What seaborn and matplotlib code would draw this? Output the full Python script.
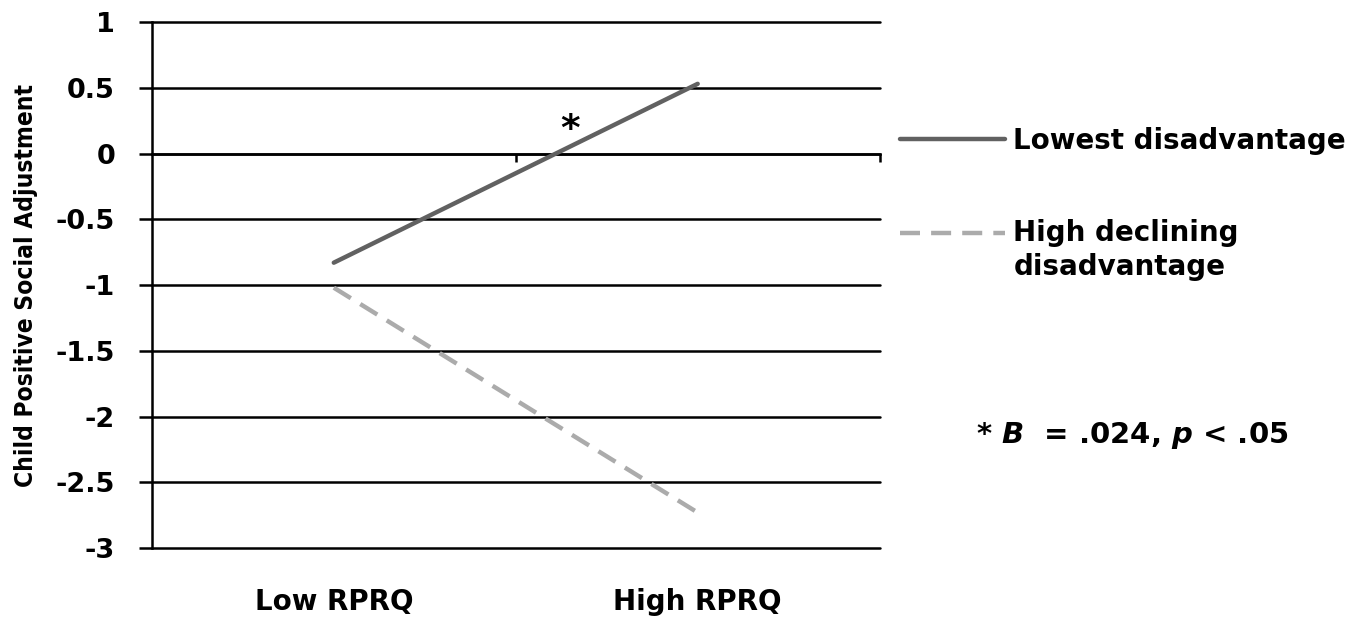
import matplotlib
matplotlib.use("Agg")
import matplotlib.pyplot as plt
import seaborn as sns
import pandas as pd

# ---- data ----
rprq = ["Low RPRQ", "High RPRQ"]
lowest_disadvantage = [-0.83, 0.53]
high_declining = [-1.02, -2.73]
series_names = ["Lowest disadvantage", "High declining\ndisadvantage"]
y_ticks = [1, 0.5, 0, -0.5, -1, -1.5, -2, -2.5, -3]
y_label = "Child Positive Social Adjustment"
note_text = r"* $B$  = .024, $p$ < .05"
star_pos = (0.65, 0.18)

df = pd.DataFrame({
    "RPRQ": rprq * 2,
    "value": lowest_disadvantage + high_declining,
    "group": [series_names[0]] * 2 + [series_names[1]] * 2,
})

FONT = "DejaVu Sans"
sns.set_theme(style="white")
plt.rcParams["font.family"] = [FONT]
plt.rcParams["text.color"] = "black"
plt.rcParams["axes.labelcolor"] = "black"
plt.rcParams["xtick.color"] = "black"
plt.rcParams["ytick.color"] = "black"
plt.rcParams["mathtext.fontset"] = "custom"
plt.rcParams["mathtext.it"] = f"{FONT}:bold:italic"
plt.rcParams["mathtext.rm"] = f"{FONT}:bold"

fig = plt.figure(figsize=(13.68, 6.2), dpi=100)
ax = fig.add_axes([0.111, 0.116, 0.532, 0.8485])

palette = {series_names[0]: "#616161", series_names[1]: "#ababab"}
dashes = {series_names[0]: "", series_names[1]: (4.5, 2.5)}
sns.lineplot(data=df, x="RPRQ", y="value", hue="group", style="group",
             palette=palette, dashes=dashes, linewidth=3.2, ax=ax, zorder=5,
             legend=True)

ax.set_xlim(-0.5, 1.5)
ax.set_ylim(-3, 1)
ax.set_yticks(y_ticks)
ax.set_yticklabels([f"{t:g}" for t in y_ticks], fontsize=19.5, fontweight="bold",
                   color="black")
for t in y_ticks:
    ax.axhline(t, color="black", lw=1.8, zorder=1, clip_on=False)
ax.tick_params(axis="y", direction="out", length=9.5, width=1.8, color="black", pad=17, left=True)

# spines
for s in ["top", "right"]:
    ax.spines[s].set_visible(False)
ax.spines["left"].set_color("black")
ax.spines["left"].set_linewidth(1.8)
ax.spines["bottom"].set_position(("data", 0))
ax.spines["bottom"].set_color("black")
ax.spines["bottom"].set_linewidth(1.8)

# category axis: tick marks at category borders on y=0, labels at bottom
ax.set_xticks([])
ax.set_xticks([0.5, 1.5], minor=True)
ax.tick_params(axis="x", which="minor", direction="out", length=6, width=1.8,
               color="black", bottom=True)
ax.set_xlabel("")
sec = ax.secondary_xaxis("bottom")
sec.set_xticks([0, 1])
sec.set_xticklabels(rprq, fontsize=20, fontweight="bold", color="black")
sec.tick_params(length=0, pad=29)
sec.spines["bottom"].set_visible(False)

ax.set_ylabel(y_label, fontsize=17.6, fontweight="bold", fontstretch="condensed",
              labelpad=13, color="black")

ax.text(star_pos[0], star_pos[1], "*", fontsize=27, fontweight="bold",
        ha="center", va="center", color="black")

leg = ax.legend(loc="upper left", bbox_to_anchor=(0.6394, 0.836),
                bbox_transform=fig.transFigure, frameon=False,
                handlelength=3.8, handletextpad=0.29,
                labelspacing=2.3, prop={"weight": "bold", "size": 20})
for txt in leg.get_texts():
    txt.set_color("black")
    txt.set_linespacing(1.3)
for i, line in enumerate(leg.get_lines()):
    line.set_linewidth(3.2)
    if i == 1:
        line.set_ydata([y + 13 for y in line.get_ydata()])

fig.text(0.8275, 0.298, note_text, fontsize=21, fontweight="bold",
         ha="center", va="center", color="black")

fig.savefig("out.png", dpi=100, facecolor="white")
